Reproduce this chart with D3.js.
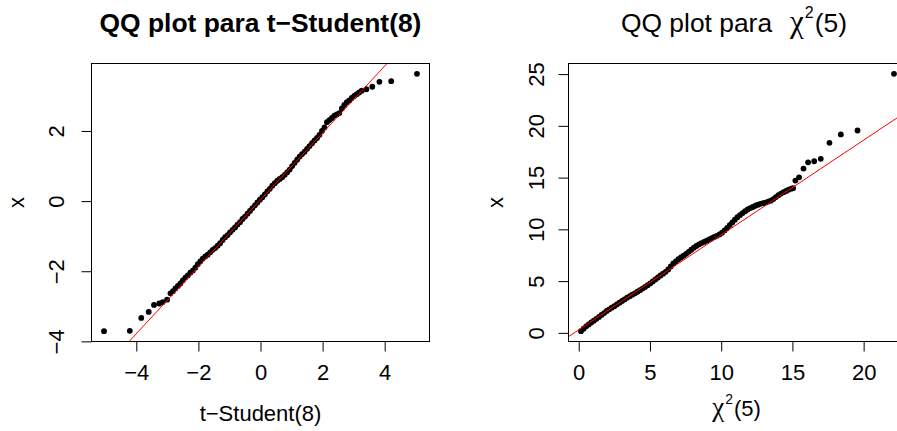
<!DOCTYPE html>
<html><head><meta charset="utf-8">
<script src="https://cdn.jsdelivr.net/npm/d3@7"></script>
<style>
body{margin:0;background:#fff}
svg{display:block}
</style>
</head><body>
<svg id="c" width="897" height="431"></svg>
<script>
// ---------- DATA ----------
// Panel 1: QQ plot, theoretical t-Student(8) quantiles vs sample x
const tTheoretical = [-5.04,-4.21,-3.84,-3.60,-3.43,-3.26,-3.15,-3.01,
-2.90,-2.82,-2.74,-2.66,-2.58,-2.50,-2.42,-2.34,-2.26,-2.18,
-2.10,-2.02,-1.94,-1.86,-1.78,-1.70,-1.62,-1.54,-1.46,-1.38,
-1.30,-1.22,-1.14,-1.06,-0.98,-0.90,-0.82,-0.74,-0.66,-0.58,
-0.50,-0.42,-0.34,-0.26,-0.18,-0.10,-0.02,0.06,0.14,0.22,
0.30,0.38,0.46,0.54,0.62,0.70,0.78,0.86,0.94,1.02,
1.10,1.18,1.26,1.34,1.42,1.50,1.58,1.66,1.74,1.82,
1.90,1.98,2.06,2.14,2.22,2.30,2.38,2.46,2.54,2.62,
2.70,2.78,2.86,2.94,3.02,3.10,3.18,3.26,
3.41,3.60,3.83,4.21,5.04];
const tSample = [-3.71,-3.70,-3.33,-3.16,-2.96,-2.92,-2.88,-2.81,
-2.63,-2.57,-2.49,-2.42,-2.35,-2.26,-2.18,-2.12,-2.04,-1.98,
-1.90,-1.80,-1.72,-1.64,-1.58,-1.53,-1.46,-1.39,-1.34,-1.27,
-1.20,-1.11,-1.03,-0.97,-0.89,-0.82,-0.75,-0.67,-0.60,-0.51,
-0.44,-0.36,-0.28,-0.20,-0.12,-0.04,0.04,0.11,0.19,0.28,
0.35,0.44,0.51,0.58,0.63,0.68,0.75,0.82,0.90,1.00,
1.09,1.18,1.27,1.34,1.41,1.49,1.57,1.65,1.73,1.80,
1.89,2.00,2.10,2.25,2.31,2.37,2.44,2.47,2.51,2.64,
2.74,2.82,2.87,2.94,3.00,3.05,3.10,3.15,
3.19,3.26,3.40,3.42,3.63];
const tLineIntercept = 0.035;
const tLineSlope = 0.954;
const tXTicks = [-4,-2,0,2,4];
const tYTicks = [-4,-2,0,2];

// Panel 2: QQ plot, theoretical chi^2(5) quantiles vs sample x
const chiTheoretical = [0.16,0.34,0.52,0.70,0.88,1.06,1.24,1.42,1.60,1.78,
1.96,2.14,2.32,2.50,2.68,2.86,3.04,3.22,3.40,3.58,
3.76,3.94,4.12,4.30,4.48,4.66,4.84,5.02,5.20,5.38,
5.56,5.74,5.92,6.10,6.28,6.46,6.64,6.82,7.00,7.18,
7.36,7.54,7.72,7.90,8.08,8.26,8.44,8.62,8.80,8.98,
9.16,9.34,9.52,9.70,9.88,10.06,10.24,10.42,10.60,10.78,
10.96,11.14,11.32,11.50,11.68,11.86,12.04,12.22,12.40,12.58,
12.76,12.94,13.12,13.30,13.48,13.66,13.84,14.02,14.20,14.38,
14.56,14.74,14.92,15.05,
15.21,15.47,15.78,16.10,16.53,16.99,17.60,18.40,19.57,22.13];
const chiSample = [0.16,0.40,0.63,0.81,1.00,1.18,1.36,1.54,1.73,1.91,
2.11,2.27,2.43,2.58,2.75,2.92,3.08,3.23,3.40,3.54,
3.69,3.82,3.97,4.12,4.28,4.44,4.61,4.78,4.97,5.16,
5.35,5.54,5.72,5.90,6.13,6.41,6.70,6.91,7.11,7.28,
7.46,7.63,7.83,8.03,8.23,8.39,8.54,8.67,8.79,8.91,
9.03,9.14,9.26,9.38,9.51,9.67,9.90,10.14,10.41,10.67,
10.94,11.17,11.38,11.57,11.75,11.92,12.06,12.16,12.28,12.38,
12.47,12.53,12.59,12.68,12.77,12.93,13.12,13.30,13.46,13.59,
13.71,13.83,13.93,13.98,
14.71,15.03,15.87,16.48,16.58,16.81,18.36,19.17,19.55,25.03];
const chiLineIntercept = 0.29;
const chiLineSlope = 0.9165;
const chiXTicks = [0,5,10,15,20];
const chiYTicks = [0,5,10,15,20,25];

// ---------- DRAWING ----------
const FONT = '"Liberation Sans", Arial, Helvetica, sans-serif';
const SERIF = '"Liberation Serif", "DejaVu Serif", serif';
const svg = d3.select("#c");
svg.append("rect").attr("width",897).attr("height",431).attr("fill","#fff");

function pad(ext){ const r = ext[1]-ext[0]; return [ext[0]-0.04*r, ext[1]+0.04*r]; }

function panel(id, theo, sample, a, b, xTicks, yTicks, box, yLabOff){
  const x = d3.scaleLinear().domain(pad(d3.extent(theo))).range([box.x0, box.x1]);
  const y = d3.scaleLinear().domain(pad(d3.extent(sample))).range([box.y1, box.y0]);
  const g = svg.append("g");
  g.append("clipPath").attr("id", id).append("rect")
    .attr("x", box.x0).attr("y", box.y0).attr("width", box.x1-box.x0).attr("height", box.y1-box.y0);
  const n = Math.min(theo.length, sample.length);
  const pts = d3.range(n).map(i => [theo[i], sample[i]]);
  g.append("g").selectAll("circle").data(pts).join("circle")
    .attr("cx", d => x(d[0])).attr("cy", d => y(d[1])).attr("r", 2.9).attr("fill", "#000");
  const [d0, d1] = x.domain();
  g.append("line").attr("clip-path", `url(#${id})`)
    .attr("x1", x(d0)).attr("y1", y(a + b*d0))
    .attr("x2", x(d1)).attr("y2", y(a + b*d1))
    .attr("stroke", "#ff0000").attr("stroke-width", 1);
  g.append("rect").attr("x", box.x0).attr("y", box.y0)
    .attr("width", box.x1-box.x0).attr("height", box.y1-box.y0)
    .attr("fill", "none").attr("stroke", "#000").attr("stroke-width", 1);

  const xa = g.append("g").attr("transform", `translate(0,${box.y1})`)
    .call(d3.axisBottom(x).tickValues(xTicks).tickSize(10).tickFormat(d3.format("d")));
  xa.select(".domain").remove();
  xa.attr("font-size", 22).attr("font-family", FONT);
  xa.selectAll("text").attr("y", 38).attr("dy", null).attr("fill", "#000");

  const ya = g.append("g").attr("transform", `translate(${box.x0},0)`)
    .call(d3.axisLeft(y).tickValues(yTicks).tickSize(10).tickFormat(d3.format("d")));
  ya.select(".domain").remove();
  ya.attr("font-size", 22).attr("font-family", FONT);
  ya.selectAll("text").attr("transform", "rotate(-90)")
    .attr("x", 0).attr("y", -yLabOff).attr("dy", null)
    .attr("text-anchor", "middle").attr("fill", "#000");
  return {x, y};
}

const boxL = {x0: 91.5, x1: 429.5, y0: 63.5, y1: 341.5};
const boxR = {x0: 568.5, x1: 906.5, y0: 63.5, y1: 341.5};

panel("clipL", tTheoretical, tSample, tLineIntercept, tLineSlope, tXTicks, tYTicks, boxL, 28);
panel("clipR", chiTheoretical, chiSample, chiLineIntercept, chiLineSlope, chiXTicks, chiYTicks, boxR, 25);

// Titles
const cxL = (boxL.x0 + boxL.x1)/2, cxR = (boxR.x0 + boxR.x1)/2;
svg.append("text").attr("x", cxL).attr("y", 32).attr("text-anchor", "middle")
  .attr("font-family", FONT).attr("font-size", 26.4).attr("font-weight", "bold")
  .text("QQ plot para t\u2212Student(8)");

const tr = svg.append("text").attr("x", 734).attr("y", 32).attr("text-anchor", "middle")
  .attr("font-family", FONT).attr("font-size", 26.4);
tr.append("tspan").text("QQ plot para");
tr.append("tspan").attr("dx", 18).attr("font-family", SERIF).attr("font-size", 31).text("\u03C7");
tr.append("tspan").attr("dx", 1).attr("dy", -14).attr("font-size", 16).text("2");
tr.append("tspan").attr("dx", 1).attr("dy", 14).text("(5)");

// Axis labels
svg.append("text").attr("x", cxL).attr("y", 421).attr("text-anchor", "middle")
  .attr("font-family", FONT).attr("font-size", 22).text("t\u2212Student(8)");

const xr = svg.append("text").attr("x", cxR - 1).attr("y", 416).attr("text-anchor", "middle")
  .attr("font-family", FONT).attr("font-size", 22);
xr.append("tspan").attr("font-family", SERIF).attr("font-size", 27).text("\u03C7");
xr.append("tspan").attr("dx", 1).attr("dy", -12).attr("font-size", 14).text("2");
xr.append("tspan").attr("dx", 1).attr("dy", 12).text("(5)");

svg.append("text").attr("transform", `translate(24,${(boxL.y0+boxL.y1)/2}) rotate(-90)`)
  .attr("text-anchor", "middle").attr("font-family", FONT).attr("font-size", 22).text("x");
svg.append("text").attr("transform", `translate(503,${(boxR.y0+boxR.y1)/2}) rotate(-90)`)
  .attr("text-anchor", "middle").attr("font-family", FONT).attr("font-size", 22).text("x");
</script>
</body></html>
